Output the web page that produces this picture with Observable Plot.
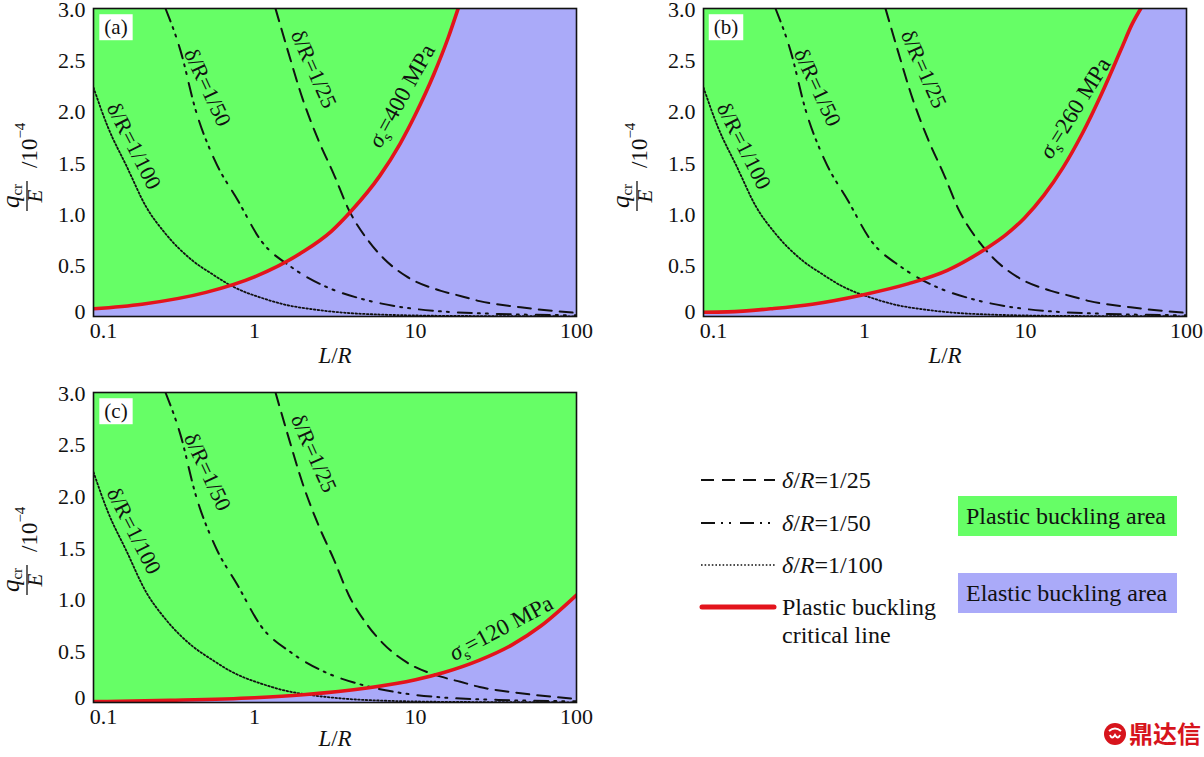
<!DOCTYPE html>
<html><head><meta charset="utf-8">
<script src="https://cdn.jsdelivr.net/npm/d3@7"></script>
<script src="https://cdn.jsdelivr.net/npm/@observablehq/plot@0.6"></script>
<style>
html,body{margin:0;padding:0;background:#fff;width:1204px;height:757px;overflow:hidden;font-family:"Liberation Serif","Times New Roman",serif;color:#111;}
.panel{position:absolute;}
.lg-line{position:absolute;left:699px;}
.lg-text{position:absolute;left:782px;font-size:24px;line-height:28px;white-space:nowrap;}
.box{position:absolute;left:958px;width:219px;height:40px;font-size:24px;line-height:40px;padding-left:8px;box-sizing:border-box;white-space:nowrap;}
.wm{position:absolute;left:1103px;top:718px;font-family:"Noto Sans CJK SC",sans-serif;font-weight:bold;color:#d7141c;font-size:24px;line-height:30px;white-space:nowrap;}
</style></head><body>
<div id="pa" class="panel" style="left:0;top:0"></div>
<div id="pb" class="panel" style="left:610px;top:0"></div>
<div id="pc" class="panel" style="left:0;top:384px"></div>

<svg class="lg-line" style="top:475px" width="78" height="10"><line x1="2" x2="76" y1="5" y2="5" stroke="#111" stroke-width="2" stroke-dasharray="13,8"/></svg>
<div class="lg-text" style="top:466px"><i>δ</i>/<i>R</i>=1/25</div>
<svg class="lg-line" style="top:518px" width="78" height="10"><line x1="2" x2="76" y1="5" y2="5" stroke="#111" stroke-width="2" stroke-dasharray="14,6,2,6,2,9"/></svg>
<div class="lg-text" style="top:509px"><i>δ</i>/<i>R</i>=1/50</div>
<svg class="lg-line" style="top:560px" width="78" height="10"><line x1="2" x2="76" y1="5" y2="5" stroke="#111" stroke-width="1.7" stroke-dasharray="1.6,2"/></svg>
<div class="lg-text" style="top:551px"><i>δ</i>/<i>R</i>=1/100</div>
<svg class="lg-line" style="top:602px" width="78" height="10"><line x1="3" x2="75" y1="5" y2="5" stroke="#e3141c" stroke-width="5" stroke-linecap="round"/></svg>
<div class="lg-text" style="top:593px">Plastic buckling<br>critical line</div>
<div class="box" style="top:496px;background:#66fe66">Plastic buckling area</div>
<div class="box" style="top:573px;background:#aaaaf9">Elastic buckling area</div>
<div class="wm"><svg width="24" height="24" style="vertical-align:-3px;margin-right:2px"><circle cx="12" cy="12" r="11" fill="#d7141c"/><path d="M6 9 Q12 4 18 9 M7 13 q2 5 5 0 q3 5 5 0" stroke="#fff" stroke-width="2" fill="none"/></svg>鼎达信</div>

<script>
// ---------------- data ----------------
const xTicks = [1, 10, 100];
const xFirstTick = [0.1];
const yTicks = [0.5, 1, 1.5, 2, 2.5, 3];
const yFirstTick = [0];

// δ/R = 1/100 (dotted)
const d100X = [0.1, 0.1225, 0.161, 0.212, 0.279, 0.408, 0.55, 0.707, 0.9, 1.0, 1.22, 1.6, 2.11, 3.66, 6.3, 10.9, 20, 40, 100];
const d100Y = [2.23, 1.85, 1.46, 1.07, 0.81, 0.55, 0.41, 0.305, 0.23, 0.205, 0.16, 0.11, 0.078, 0.036, 0.018, 0.009, 0.005, 0.003, 0.002];
// δ/R = 1/50 (dash-dot-dot)
const d50X = [0.28, 0.347, 0.431, 0.567, 0.789, 1.097, 1.7, 2.78, 4.81, 8.3, 14.4, 32.7, 100];
const d50Y = [3.0, 2.59, 2.01, 1.52, 1.13, 0.74, 0.48, 0.29, 0.165, 0.09, 0.05, 0.025, 0.012];
// δ/R = 1/25 (dashed)
const d25X = [1.35, 1.61, 2.0, 2.49, 3.10, 3.86, 5.08, 6.3, 8.79, 14.4, 19, 25, 45, 100];
const d25Y = [3.0, 2.59, 2.11, 1.72, 1.39, 1.036, 0.74, 0.57, 0.39, 0.25, 0.2, 0.15, 0.09, 0.035];

// plastic buckling critical lines
const redAX = [0.1, 0.2, 0.5, 1, 2, 3, 4, 6, 8, 10, 13, 16, 18.4];
const redAY = [0.075, 0.12, 0.235, 0.386, 0.63, 0.83, 1.03, 1.37, 1.68, 1.97, 2.36, 2.72, 3.0];
const redBX = [0.1, 0.141, 0.273, 0.474, 0.97, 1.88, 3.27, 5.67, 7.47, 9.86, 13, 17.1, 22.5, 29.7, 39.2, 46, 52];
const redBY = [0.042, 0.045, 0.078, 0.12, 0.21, 0.32, 0.45, 0.66, 0.79, 0.96, 1.18, 1.45, 1.78, 2.17, 2.6, 2.85, 3.0];
const redCX = [0.1, 0.3, 1, 2, 5, 10, 15, 25, 40, 60, 100];
const redCY = [0.008, 0.021, 0.046, 0.075, 0.14, 0.22, 0.29, 0.41, 0.56, 0.74, 1.04];

const panelNames = ["(a)", "(b)", "(c)"];
const sigmaTexts = ["σs=400 MPa", "σs=260 MPa", "σs=120 MPa"];
const deltaTexts = ["δ/R=1/100", "δ/R=1/50", "δ/R=1/25"];

// annotation anchors (data coordinates) and angles
const deltaLabelX = [0.178, 0.51, 2.33];
const deltaLabelY = [1.66, 2.23, 2.41];
const deltaLabelAngle = [63, 65, 66];
const sigmaLabelX = [8.2, 20.3, 34];
const sigmaLabelY = [2.15, 2.03, 0.72];
const sigmaLabelAngle = [-61, -58, -28];

// ---------------- helpers ----------------
const GREEN = "#66fe66", PURPLE = "#aaaaf9", RED = "#e3141c", INK = "#111";
const FONT = "Liberation Serif, Times New Roman, serif";
const zip = (xs, ys) => xs.map((x, i) => ({x, y: ys[i]}));
const d100 = zip(d100X, d100Y), d50 = zip(d50X, d50Y), d25 = zip(d25X, d25Y);
const deltaLabels = deltaTexts.map((t, i) => ({t, x: deltaLabelX[i], y: deltaLabelY[i], a: deltaLabelAngle[i]}));

function makePanel(i, redX, redY, box) {
  const red = zip(redX, redY);
  const sig = [{t: sigmaTexts[i], x: sigmaLabelX[i], y: sigmaLabelY[i], a: sigmaLabelAngle[i]}];
  const marks = [
    Plot.frame({fill: PURPLE}),
    Plot.areaY(red, {x: "x", y1: "y", y2: () => 3, fill: GREEN, curve: "monotone-x", clip: true}),
    Plot.line(d100, {x: "x", y: "y", stroke: INK, strokeWidth: 1.8, strokeDasharray: "1.6,2.2", curve: "monotone-x", clip: true}),
    Plot.line(d50, {x: "x", y: "y", stroke: INK, strokeWidth: 2, strokeDasharray: "14,6,2,6,2,9", curve: "monotone-x", clip: true}),
    Plot.line(d25, {x: "x", y: "y", stroke: INK, strokeWidth: 2, strokeDasharray: "13,8", curve: "monotone-x", clip: true}),
    Plot.line(red, {x: "x", y: "y", stroke: RED, strokeWidth: 3.6, curve: "monotone-x", clip: true}),
    ...deltaLabels.map(d => Plot.text([d], {x: "x", y: "y", text: "t", rotate: d.a, fontSize: 22, fill: INK, fontFamily: FONT})),
    Plot.text(sig, {x: "x", y: "y", text: "t", rotate: sig[0].a, fontSize: 23, fill: INK, fontFamily: FONT, className: "sig"}),
    Plot.text([panelNames[i]], {frameAnchor: "top-left", dx: 22.5, dy: 19, textAnchor: "middle", lineAnchor: "middle", fontSize: 21, fill: INK, fontFamily: FONT, className: "plab"}),
    Plot.text(["L/R"], {frameAnchor: "bottom", dy: box.xlab, fontSize: 23, fill: INK, fontFamily: FONT, className: "xlab"}),
    Plot.frame({stroke: INK, strokeWidth: 1.6}),
    Plot.axisX(xTicks, {tickSize: 0, tickPadding: 6, fontSize: 22, fontFamily: FONT, tickFormat: d => String(d), label: null}),
    Plot.axisX(xFirstTick, {tickSize: 0, tickPadding: 6, dx: 10, fontSize: 22, fontFamily: FONT, tickFormat: d => String(d), label: null}),
    Plot.axisY(yTicks, {tickSize: 0, tickPadding: 8, dy: 1, fontSize: 22, fontFamily: FONT, tickFormat: d3.format(".1f"), label: null}),
    Plot.axisY(yFirstTick, {tickSize: 0, tickPadding: 8, dy: -5, fontSize: 22, fontFamily: FONT, tickFormat: d => "0", label: null})
  ];
  return Plot.plot({
    width: box.width, height: box.height,
    marginLeft: 93, marginRight: box.mr, marginTop: 8, marginBottom: box.mb,
    x: {type: "log", domain: [0.1, 100]},
    y: {domain: [0, 3]},
    style: {fontFamily: FONT, background: "transparent", color: INK, overflow: "visible"},
    marks
  });
}

function decorate(svg) {
  const s = d3.select(svg);
  // sigma label with italic sigma and subscript s
  s.selectAll("g.sig text").each(function() {
    const el = d3.select(this); const t = el.text(); const rest = t.slice(2);
    el.text(null);
    el.append("tspan").attr("font-style", "italic").text("σ");
    el.append("tspan").attr("font-size", 15).attr("dy", 5).text("s");
    el.append("tspan").attr("dy", -5).text(rest);
  });
  // italic L and R
  s.selectAll("g.xlab text").each(function() {
    const el = d3.select(this); el.text(null);
    el.append("tspan").attr("font-style", "italic").text("L");
    el.append("tspan").text("/");
    el.append("tspan").attr("font-style", "italic").text("R");
  });
  // white box behind panel letter
  s.selectAll("g.plab text").each(function() {
    const b = this.getBBox();
    const tr = this.getAttribute("transform") || "";
    d3.select(this.parentNode).insert("rect", "text")
      .attr("transform", tr)
      .attr("x", b.x - 5).attr("y", b.y - 1).attr("width", b.width + 10).attr("height", b.height + 2)
      .attr("fill", "#fff");
  });
  // y-axis label: q_cr / E  /10^-4
  const g = s.append("g").attr("transform", "translate(31,162) rotate(-90)")
    .attr("font-family", FONT).attr("fill", INK).attr("text-anchor", "start");
  const num = g.append("text").attr("x", -34).attr("y", -12).attr("text-anchor", "middle").attr("font-size", 25);
  num.append("tspan").attr("font-style", "italic").text("q");
  num.append("tspan").attr("font-size", 15).attr("dy", 3).text("cr");
  g.append("line").attr("x1", -49).attr("x2", -19).attr("y1", -4).attr("y2", -4).attr("stroke", INK).attr("stroke-width", 1.3);
  g.append("text").attr("x", -34).attr("y", 11).attr("text-anchor", "middle").attr("font-style", "italic").attr("font-size", 21).text("E");
  const t = g.append("text").attr("x", -6).attr("y", 6).attr("text-anchor", "start").attr("font-size", 23);
  t.append("tspan").text("/10");
  t.append("tspan").attr("font-size", 15).attr("dy", -12).text("−4");
}

const panels = [
  {id: "pa", red: [redAX, redAY], box: {width: 600, height: 380, mr: 24, mb: 64, xlab: 46}},
  {id: "pb", red: [redBX, redBY], box: {width: 594, height: 380, mr: 18, mb: 64, xlab: 46}},
  {id: "pc", red: [redCX, redCY], box: {width: 600, height: 373, mr: 24, mb: 55, xlab: 43}}
];
panels.forEach((p, i) => {
  const svg = makePanel(i, p.red[0], p.red[1], p.box);
  document.getElementById(p.id).appendChild(svg);
  decorate(svg);
});
</script>
</body></html>
